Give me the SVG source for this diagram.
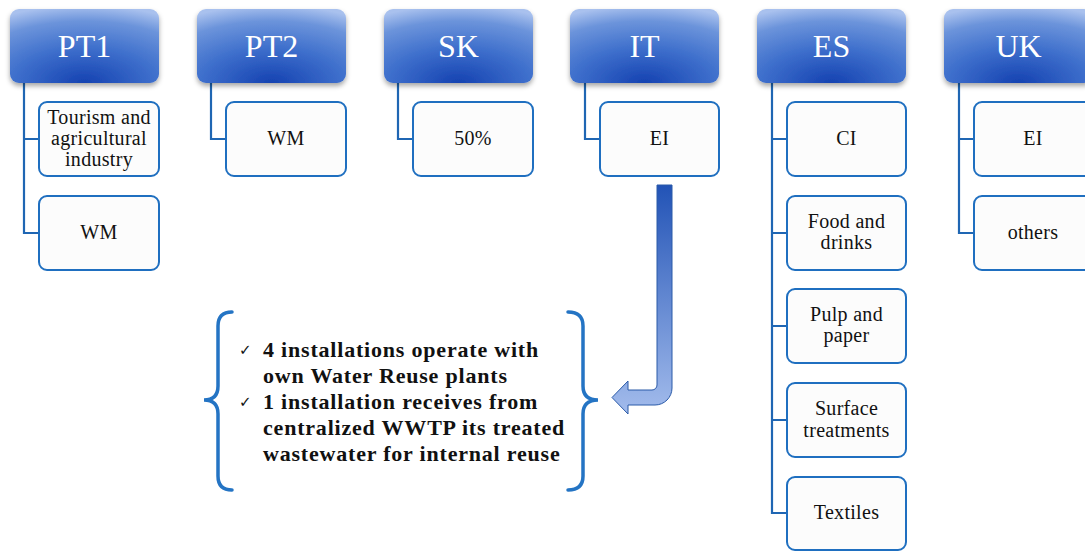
<svg xmlns="http://www.w3.org/2000/svg" width="1085" height="552" viewBox="0 0 1085 552">
<defs>
<radialGradient id="hg" cx="0.5" cy="1" r="1.05" fx="0.5" fy="1">
<stop offset="0" stop-color="#1542b1"/>
<stop offset="0.45" stop-color="#3e6fcc"/>
<stop offset="0.8" stop-color="#6c94db"/>
<stop offset="1" stop-color="#a9c1ee"/>
</radialGradient>
<linearGradient id="ag" x1="0" y1="0" x2="0" y2="1">
<stop offset="0" stop-color="#2253b6"/>
<stop offset="1" stop-color="#a3bcec"/>
</linearGradient>
<filter id="sh" x="-10%" y="-10%" width="120%" height="140%">
<feDropShadow dx="0" dy="3" stdDeviation="2.5" flood-color="#000" flood-opacity="0.35"/>
</filter>
</defs>
<style>
.hd{fill:url(#hg);filter:url(#sh)}
.ht{font-family:"Liberation Serif","DejaVu Serif",serif;font-size:32px;fill:#fff;text-anchor:middle}
.cb{fill:#fcfcfc;stroke:#1f6fc0;stroke-width:2}
.ct{font-family:"Liberation Serif","DejaVu Serif",serif;font-size:20px;letter-spacing:0.3px;fill:#111;text-anchor:middle}
.cn{fill:none;stroke:#1f66b3;stroke-width:2.2}
.br{fill:none;stroke:#2474c4;stroke-width:3.5;stroke-linecap:round}
.bt{font-family:"Liberation Serif","DejaVu Serif",serif;font-size:22px;letter-spacing:0.8px;font-weight:bold;fill:#111}
.ck{font-family:"DejaVu Sans",sans-serif;font-size:15px;fill:#111}
</style>
<g id="connectors">
<path class="cn" d="M24,83 V233 H39 M24,139 H39"/>
<path class="cn" d="M211,83 V139 H226"/>
<path class="cn" d="M398,83 V139 H413"/>
<path class="cn" d="M585,83 V139 H600"/>
<path class="cn" d="M772,83 V513 H787 M772,139 H787 M772,233 H787 M772,326 H787 M772,420 H787"/>
<path class="cn" d="M959,83 V233 H974 M959,139 H974"/>
</g>
<g id="PT1">
<rect class="hd" x="10" y="9" width="149" height="74" rx="9"/>
<text class="ht" x="84.5" y="57">PT1</text>
</g>
<g id="PT1-tourism">
<rect class="cb" x="39" y="102" width="120" height="74" rx="8"/>
<text class="ct" x="99" y="124">Tourism and</text>
<text class="ct" x="99" y="145">agricultural</text>
<text class="ct" x="99" y="166">industry</text>
</g>
<g id="PT1-WM">
<rect class="cb" x="39" y="196" width="120" height="74" rx="8"/>
<text class="ct" x="99" y="239">WM</text>
</g>
<g id="PT2">
<rect class="hd" x="197" y="9" width="149" height="74" rx="9"/>
<text class="ht" x="271.5" y="57">PT2</text>
</g>
<g id="PT2-WM">
<rect class="cb" x="226" y="102" width="120" height="74" rx="8"/>
<text class="ct" x="286" y="145">WM</text>
</g>
<g id="SK">
<rect class="hd" x="384" y="9" width="149" height="74" rx="9"/>
<text class="ht" x="458.5" y="57">SK</text>
</g>
<g id="SK-50">
<rect class="cb" x="413" y="102" width="120" height="74" rx="8"/>
<text class="ct" x="473" y="145">50%</text>
</g>
<g id="IT">
<rect class="hd" x="570" y="9" width="149" height="74" rx="9"/>
<text class="ht" x="644.5" y="57">IT</text>
</g>
<g id="IT-EI">
<rect class="cb" x="600" y="102" width="119" height="74" rx="8"/>
<text class="ct" x="659.5" y="145">EI</text>
</g>
<g id="ES">
<rect class="hd" x="757" y="9" width="149" height="74" rx="9"/>
<text class="ht" x="831.5" y="57">ES</text>
</g>
<g id="ES-CI">
<rect class="cb" x="787" y="102" width="119" height="74" rx="8"/>
<text class="ct" x="846.5" y="145">CI</text>
</g>
<g id="ES-food">
<rect class="cb" x="787" y="196" width="119" height="74" rx="8"/>
<text class="ct" x="846.5" y="228">Food and</text>
<text class="ct" x="846.5" y="249">drinks</text>
</g>
<g id="ES-pulp">
<rect class="cb" x="787" y="289" width="119" height="74" rx="8"/>
<text class="ct" x="846.5" y="321">Pulp and</text>
<text class="ct" x="846.5" y="342">paper</text>
</g>
<g id="ES-surface">
<rect class="cb" x="787" y="383" width="119" height="74" rx="8"/>
<text class="ct" x="846.5" y="415">Surface</text>
<text class="ct" x="846.5" y="437">treatments</text>
</g>
<g id="ES-textiles">
<rect class="cb" x="787" y="477" width="119" height="73" rx="8"/>
<text class="ct" x="846.5" y="519">Textiles</text>
</g>
<g id="UK">
<rect class="hd" x="944" y="9" width="149" height="74" rx="9"/>
<text class="ht" x="1018.5" y="57">UK</text>
</g>
<g id="UK-EI">
<rect class="cb" x="974" y="102" width="119" height="74" rx="8"/>
<text class="ct" x="1033" y="145">EI</text>
</g>
<g id="UK-others">
<rect class="cb" x="974" y="196" width="119" height="74" rx="8"/>
<text class="ct" x="1033" y="239">others</text>
</g>
<g id="arrow">
<path d="M657,185 H672 V388 A17,17 0 0 1 655,405 H628 V414 L612,397.5 L628,381 V390 H652 A5,5 0 0 0 657,385 Z" fill="url(#ag)" stroke="#2a5aa8" stroke-width="1"/>
</g>
<g id="note">
<path class="br" d="M232,312 Q218,312 218,326 V386 Q218,400 204,400 Q218,400 218,414 V476 Q218,490 232,490"/>
<path class="br" d="M568,312 Q583,312 583,326 V386 Q583,400 598,400 Q583,400 583,414 V476 Q583,490 568,490"/>
<text class="ck" x="239" y="355">✓</text>
<text class="bt" x="263" y="357">4 installations operate with</text>
<text class="bt" x="263" y="383">own Water Reuse plants</text>
<text class="ck" x="239" y="407">✓</text>
<text class="bt" x="263" y="409">1 installation receives from</text>
<text class="bt" x="263" y="435">centralized WWTP its treated</text>
<text class="bt" x="263" y="461">wastewater for internal reuse</text>
</g>
</svg>
